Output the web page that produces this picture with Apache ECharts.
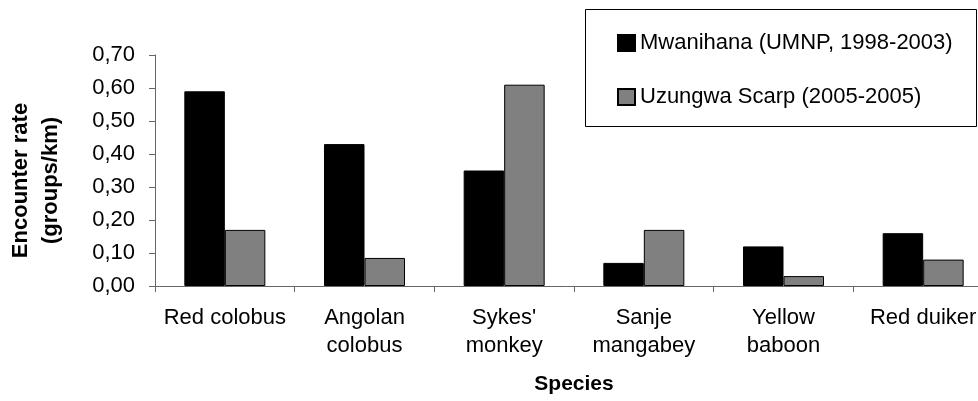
<!DOCTYPE html>
<html>
<head>
  <meta charset="utf-8">
  <title>Encounter rate</title>
  <script src="https://cdn.jsdelivr.net/npm/echarts@6/dist/echarts.min.js"></script>
</head>
<body style="margin:0">
<div id="main" style="width: 978px;height:401px;"></div>
<script type="text/javascript">
  var species = ['Red colobus', 'Angolan\ncolobus', "Sykes'\nmonkey", 'Sanje\nmangabey', 'Yellow\nbaboon', 'Red duiker'];
  var mwanihana = [0.59, 0.43, 0.35, 0.07, 0.12, 0.16];
  var uzungwa = [0.17, 0.085, 0.61, 0.17, 0.03, 0.08];
  var yTicks = [0, 0.1, 0.2, 0.3, 0.4, 0.5, 0.6, 0.7];

  var font = 'Liberation Sans, Arial, sans-serif';
  var chart = echarts.init(document.getElementById('main'));

  var option = {
    animation: false,
    textStyle: { fontFamily: font },
    grid: { left: 155, top: 55, right: -15, bottom: 115, outerBoundsMode: 'none', containLabel: false },
    graphic: [{
      type: 'rect',
      shape: { x: 585.5, y: 9.5, width: 391, height: 117 },
      style: { fill: '#fff', stroke: '#000', lineWidth: 1 },
      z: 0
    }],
    legend: {
      orient: 'vertical',
      left: 612,
      top: 26,
      itemWidth: 17,
      itemHeight: 16,
      itemGap: 30,
      icon: 'rect',
      textStyle: { fontFamily: font, fontSize: 22, color: '#000', lineHeight: 24 },
      z: 5
    },
    xAxis: {
      type: 'category',
      data: species,
      name: 'Species',
      nameLocation: 'middle',
      nameGap: 88,
      nameTextStyle: { fontFamily: font, fontSize: 21, fontWeight: 'bold', color: '#000' },
      axisLine: { lineStyle: { color: '#666', width: 1 } },
      axisTick: { show: true, length: 6, lineStyle: { color: '#666' } },
      axisLabel: { fontFamily: font, fontSize: 22, color: '#000', margin: 18, lineHeight: 28, interval: 0 }
    },
    yAxis: {
      type: 'value',
      min: 0,
      max: yTicks[yTicks.length - 1],
      interval: 0.1,
      name: 'Encounter rate\n(groups/km)',
      nameLocation: 'middle',
      nameRotate: 90,
      nameGap: 89,
      nameTextStyle: {
        fontFamily: font, fontSize: 22, fontWeight: 'bold', color: '#000',
        lineHeight: 30, padding: [0, 20, 0, 0]
      },
      axisLine: { show: true, lineStyle: { color: '#666', width: 1 } },
      axisTick: { show: true, length: 6, lineStyle: { color: '#666' } },
      splitLine: { show: false },
      axisLabel: {
        fontFamily: font, fontSize: 22, color: '#000', margin: 20,
        formatter: function (v) { return v.toFixed(2).replace('.', ','); }
      }
    },
    series: [
      {
        name: 'Mwanihana (UMNP, 1998-2003)',
        type: 'bar',
        data: mwanihana,
        barGap: '0%',
        barCategoryGap: '42%',
        itemStyle: { color: '#000000', borderColor: '#000', borderWidth: 1 }
      },
      {
        name: 'Uzungwa Scarp (2005-2005)',
        type: 'bar',
        data: uzungwa,
        barGap: '0%',
        barCategoryGap: '42%',
        itemStyle: { color: '#808080', borderColor: '#000', borderWidth: 1 }
      }
    ]
  };

  chart.setOption(option);
</script>
</body>
</html>
